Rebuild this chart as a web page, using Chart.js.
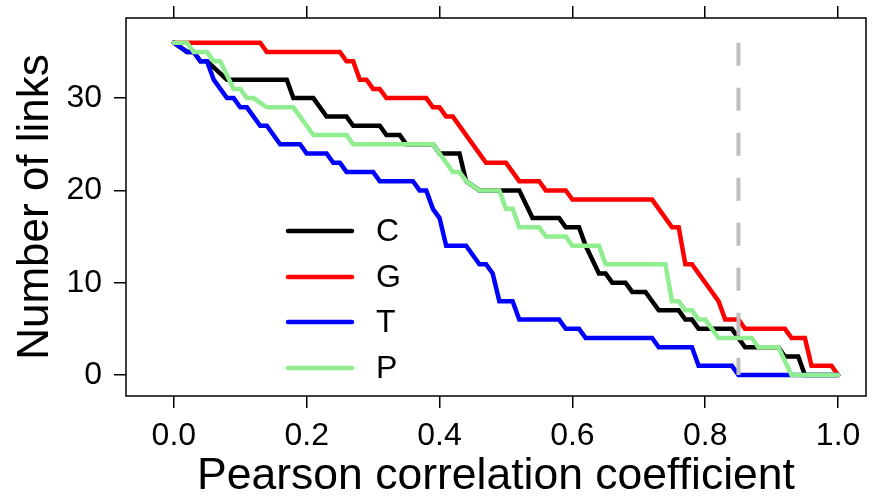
<!DOCTYPE html>
<html>
<head>
<meta charset="utf-8">
<script src="https://cdn.jsdelivr.net/npm/chart.js@4.4.1/dist/chart.umd.min.js"></script>
<style>
  html, body { margin: 0; padding: 0; background: #fff; }
  #wrap { width: 880px; height: 499px; }
</style>
</head>
<body>
<div id="wrap"><canvas id="links"></canvas></div>
<script>
// values (x = correlation threshold, y = number of links)
const xTicks = [0, 0.2, 0.4, 0.6, 0.8, 1.0];
const xTickLabels = ['0.0', '0.2', '0.4', '0.6', '0.8', '1.0'];
const yTicks = [0, 10, 20, 30];
const cutoff = 0.85;
const cutoffSpan = [36, 0];

const cX = [0, 0.02, 0.03, 0.04, 0.05, 0.08, 0.17, 0.18, 0.21, 0.23, 0.26, 0.27, 0.31, 0.32, 0.34, 0.35, 0.39, 0.40, 0.43, 0.44, 0.46, 0.52, 0.54, 0.58, 0.59, 0.61, 0.62, 0.64, 0.65, 0.66, 0.68, 0.69, 0.71, 0.73, 0.76, 0.77, 0.78, 0.79, 0.84, 0.86, 0.91, 0.92, 0.94, 0.95, 1.0];
const cY = [36, 35, 35, 34, 34, 32, 32, 30, 30, 28, 28, 27, 27, 26, 26, 25, 25, 24, 24, 21, 20, 20, 17, 17, 16, 16, 14, 11, 11, 10, 10, 9, 9, 7, 7, 6, 6, 5, 5, 3, 3, 2, 2, 0, 0];

const gX = [0, 0.13, 0.14, 0.25, 0.26, 0.27, 0.28, 0.29, 0.30, 0.31, 0.32, 0.38, 0.39, 0.40, 0.41, 0.42, 0.47, 0.50, 0.52, 0.55, 0.56, 0.59, 0.60, 0.72, 0.75, 0.76, 0.77, 0.78, 0.82, 0.83, 0.85, 0.86, 0.92, 0.93, 0.95, 0.96, 0.99, 1.0];
const gY = [36, 36, 35, 35, 34, 34, 32, 32, 31, 31, 30, 30, 29, 29, 28, 28, 23, 23, 21, 21, 20, 20, 19, 19, 16, 16, 12, 12, 8, 6, 6, 5, 5, 4, 4, 1, 1, 0];

const tX = [0, 0.02, 0.03, 0.04, 0.05, 0.06, 0.08, 0.09, 0.10, 0.11, 0.13, 0.14, 0.16, 0.19, 0.20, 0.23, 0.24, 0.25, 0.26, 0.30, 0.31, 0.36, 0.37, 0.38, 0.39, 0.40, 0.41, 0.44, 0.46, 0.47, 0.48, 0.49, 0.51, 0.52, 0.58, 0.59, 0.61, 0.62, 0.72, 0.73, 0.78, 0.79, 0.84, 0.85, 1.0];
const tY = [36, 35, 35, 34, 34, 32, 30, 30, 29, 29, 27, 27, 25, 25, 24, 24, 23, 23, 22, 22, 21, 21, 20, 20, 18, 17, 14, 14, 12, 12, 11, 8, 8, 6, 6, 5, 5, 4, 4, 3, 3, 1, 1, 0, 0];

const pX = [0, 0.02, 0.03, 0.05, 0.06, 0.07, 0.09, 0.10, 0.11, 0.12, 0.14, 0.18, 0.20, 0.21, 0.26, 0.27, 0.39, 0.41, 0.42, 0.43, 0.44, 0.46, 0.49, 0.50, 0.51, 0.52, 0.55, 0.56, 0.59, 0.60, 0.64, 0.65, 0.74, 0.75, 0.76, 0.77, 0.78, 0.79, 0.80, 0.82, 0.87, 0.88, 0.91, 0.93, 1.0];
const pY = [36, 36, 35, 35, 34, 34, 31, 31, 30, 30, 29, 29, 27, 26, 26, 25, 25, 23, 22, 22, 21, 20, 20, 18, 18, 16, 16, 15, 15, 14, 14, 12, 12, 8, 8, 7, 7, 6, 6, 4, 4, 3, 3, 0, 0];

const FONT = "'Liberation Sans', Arial, Helvetica, sans-serif";

function pts(xs, ys) {
  return xs.map((x, i) => ({ x: x, y: ys[i] }));
}

function series(label, xs, ys, color, order) {
  return {
    label: label,
    data: pts(xs, ys),
    borderColor: color,
    backgroundColor: color,
    borderWidth: 4.5,
    pointRadius: 0,
    tension: 0,
    fill: false,
    order: order,
    borderJoinStyle: 'miter',
    borderCapStyle: 'round',
  };
}

const datasets = [
  series('C', cX, cY, '#000000', 4),
  series('G', gX, gY, '#ff0000', 3),
  series('T', tX, tY, '#0000ff', 2),
  series('P', pX, pY, '#90ee90', 1),
  {
    label: 'cutoff',
    data: cutoffSpan.map(v => ({ x: cutoff, y: v })),
    borderColor: '#bebebe',
    borderWidth: 4,
    borderDash: [23, 22],
    borderCapStyle: 'butt',
    pointRadius: 0,
    order: 0,
  },
];

// fixed scale sizes, no extra room for label overhang
function fixSize(w, h) {
  return s => {
    if (w != null) s.width = w;
    if (h != null) s.height = h;
    s.paddingTop = 0;
    s.paddingBottom = 0;
    s.paddingLeft = 0;
    s.paddingRight = 0;
  };
}

// box round the plot plus the legend inside it (R style)
const boxAndLegend = {
  id: 'boxAndLegend',
  afterDatasetsDraw(chart) {
    const { ctx, chartArea: a } = chart;
    ctx.save();
    ctx.strokeStyle = '#000';
    ctx.lineWidth = 1.5;
    ctx.strokeRect(a.left, a.top, a.right - a.left, a.bottom - a.top);

    const rows = [231, 277, 322, 368];
    ctx.font = '32px ' + FONT;
    ctx.textBaseline = 'middle';
    ctx.textAlign = 'left';
    datasets.slice(0, 4).forEach((ds, i) => {
      ctx.strokeStyle = ds.borderColor;
      ctx.lineWidth = 4.5;
      ctx.lineCap = 'round';
      ctx.beginPath();
      ctx.moveTo(288, rows[i]);
      ctx.lineTo(352, rows[i]);
      ctx.stroke();
      ctx.fillStyle = '#000';
      ctx.fillText(ds.label, 376, rows[i] + 1);
    });
    ctx.restore();
  }
};

new Chart(document.getElementById('links'), {
  type: 'line',
  data: { datasets: datasets },
  plugins: [boxAndLegend],
  options: {
    responsive: true,
    maintainAspectRatio: false,
    animation: false,
    layout: { padding: { left: 0, right: 14, top: 0, bottom: 0 } },
    plugins: {
      legend: { display: false },
      tooltip: { enabled: false },
    },
    scales: {
      x: {
        type: 'linear',
        position: 'bottom',
        min: -0.072,
        max: 1.042,
        afterBuildTicks: s => { s.ticks = xTicks.map(v => ({ value: v })); },
        afterFit: fixSize(null, 103),
        ticks: {
          callback: (v) => xTickLabels[xTicks.indexOf(v)],
          font: { family: FONT, size: 32 },
          color: '#000',
          padding: 9,
          maxRotation: 0,
          autoSkip: false,
        },
        grid: { drawOnChartArea: false, drawTicks: true, tickLength: 12, color: '#000', lineWidth: 1.5 },
        border: { display: false },
        title: {
          display: true,
          text: 'Pearson correlation coefficient',
          font: { family: FONT, size: 44.5, lineHeight: 1.0 },
          color: '#000',
          padding: { top: 0, bottom: 0 },
        },
      },
      x2: {
        type: 'linear',
        position: 'top',
        min: -0.072,
        max: 1.042,
        afterBuildTicks: s => { s.ticks = xTicks.map(v => ({ value: v })); },
        afterFit: fixSize(null, 18),
        ticks: { display: false },
        grid: { drawOnChartArea: false, drawTicks: true, tickLength: 12, color: '#000', lineWidth: 1.5 },
        border: { display: false },
      },
      y: {
        type: 'linear',
        position: 'left',
        min: -2.28,
        max: 38.68,
        afterBuildTicks: s => { s.ticks = yTicks.map(v => ({ value: v })); },
        afterFit: fixSize(126, null),
        ticks: {
          font: { family: FONT, size: 32 },
          color: '#000',
          padding: 12,
        },
        grid: { drawOnChartArea: false, drawTicks: true, tickLength: 12, color: '#000', lineWidth: 1.5 },
        border: { display: false },
        title: {
          display: true,
          text: 'Number of links',
          font: { family: FONT, size: 44, lineHeight: 1.2 },
          color: '#000',
          padding: { top: 9, bottom: 0 },
        },
      },
    },
  },
});
</script>
</body>
</html>
